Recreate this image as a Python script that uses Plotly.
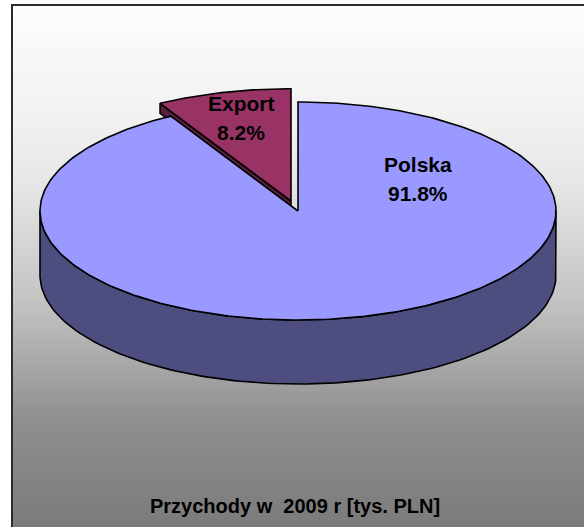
import numpy as np
import plotly.graph_objects as go

# ---- data ----
categories = ["Polska", "Export"]
values = [91.8, 8.2]
title_text = "Przychody w\u00a0 2009 r [tys. PLN]"

# ---- geometry / style (pixel space) ----
W, H = 584, 527
CX, CY = 298, 211          # centre of top ellipse
RX, RY = 258, 109          # radii of top ellipse
DEPTH = 64                 # height of the pie side
EXP_SHIFT = (-7, -10)      # explode offset of Export slice
EXP_SCALE = (1.03, 1.03)   # perspective growth of exploded slice
EXP_FACE = 10              # visible thickness of exploded slice face

TOP_COLORS = {"Polska": "#9999FF", "Export": "#993366"}
SIDE_COLORS = {"Polska": "#4D4D80", "Export": "#5A1F3D"}

total = sum(values)
fracs = [v / total for v in values]

# slices: start at 12 o'clock; Export runs counter-clockwise, Polska clockwise
exp_sweep = fracs[1] * 360.0
exp_a0, exp_a1 = 90.0, 90.0 + exp_sweep
pol_a0, pol_a1 = 90.0, 90.0 + exp_sweep - 360.0


def ell(cx, cy, rx, ry, angs):
    a = np.radians(angs)
    return cx + rx * np.cos(a), cy - ry * np.sin(a)


fig = go.Figure()

# background gradient + frame
grad_y = [6, 120, 180, 300, 420, 527]
grad_v = [253, 241, 231, 196, 143, 123]
shapes = []
step = 2
for y in range(5, H, step):
    g = int(round(np.interp(y + step / 2, grad_y, grad_v)))
    shapes.append(dict(type="rect", xref="x", yref="y", x0=12, x1=W + 2,
                       y0=y, y1=y + step + 0.5, line=dict(width=0),
                       fillcolor=f"rgb({g},{g},{g})", layer="below"))
shapes.append(dict(type="rect", xref="x", yref="y", x0=12, x1=W + 20,
                   y0=5, y1=H + 20, line=dict(color="#2b2b2b", width=2),
                   fillcolor="rgba(0,0,0,0)", layer="below"))

line = dict(color="black", width=1.6)

# Export slice (exploded)
ecx, ecy = CX + EXP_SHIFT[0], CY + EXP_SHIFT[1]
erx, ery = RX * EXP_SCALE[0], RY * EXP_SCALE[1]
rx_e, ry_e = ell(ecx, ecy, erx, ery, [exp_a1])
face_x = [ecx, rx_e[0], rx_e[0], ecx, ecx]
face_y = [ecy, ry_e[0], ry_e[0] + EXP_FACE, ecy + EXP_FACE, ecy]
fig.add_trace(go.Scatter(x=face_x, y=face_y, fill="toself", mode="lines",
                         fillcolor=SIDE_COLORS["Export"], line=line,
                         hoverinfo="skip", showlegend=False))
angs = np.linspace(exp_a0, exp_a1, 40)
ax_, ay_ = ell(ecx, ecy, erx, ery, angs)
fig.add_trace(go.Scatter(x=[ecx, *ax_, ecx], y=[ecy, *ay_, ecy], fill="toself",
                         mode="lines", fillcolor=TOP_COLORS["Export"], line=line,
                         name="Export", showlegend=False))

# Polska side (front half of the cylinder)
side = np.linspace(180, 360, 120)
sx, sy = ell(CX, CY, RX, RY, side)
bx, by = ell(CX, CY + DEPTH, RX, RY, side[::-1])
fig.add_trace(go.Scatter(x=[*sx, *bx, sx[0]], y=[*sy, *by, sy[0]], fill="toself",
                         mode="lines", fillcolor=SIDE_COLORS["Polska"], line=line,
                         hoverinfo="skip", showlegend=False))

# Polska top
angs = np.linspace(pol_a0, pol_a1, 300)
px_, py_ = ell(CX, CY, RX, RY, angs)
fig.add_trace(go.Scatter(x=[CX, *px_, CX], y=[CY, *py_, CY], fill="toself",
                         mode="lines", fillcolor=TOP_COLORS["Polska"], line=line,
                         name="Polska", showlegend=False))

# labels
label_pos = {"Polska": (418, 164), "Export": (241, 103)}
lab_font = dict(family="Arial, Liberation Sans, sans-serif", size=21, color="black")
annotations = []
for cat, f in zip(categories, fracs):
    lx, ly = label_pos[cat]
    annotations.append(dict(x=lx, y=ly, xref="x", yref="y", text=f"<b>{cat}</b>",
                            showarrow=False, font=lab_font))
    annotations.append(dict(x=lx, y=ly + 29, xref="x", yref="y",
                            text=f"<b>{f*100:.1f}%</b>", showarrow=False, font=lab_font))
annotations.append(dict(x=295, y=506, xref="x", yref="y", text=f"<b>{title_text}</b>",
                        showarrow=False,
                        font=dict(family="Arial, Liberation Sans, sans-serif", size=20,
                                  color="black")))

fig.update_layout(
    width=W, height=H,
    margin=dict(l=0, r=0, t=0, b=0),
    paper_bgcolor="white", plot_bgcolor="rgba(0,0,0,0)",
    xaxis=dict(range=[0, W], visible=False, fixedrange=True),
    yaxis=dict(range=[H, 0], visible=False, fixedrange=True),
    shapes=shapes, annotations=annotations,
)

fig.write_html("out.html",
               config={"displayModeBar": False},
               post_script="document.body.style.margin='0';"
                           "document.body.style.overflow='hidden';")
